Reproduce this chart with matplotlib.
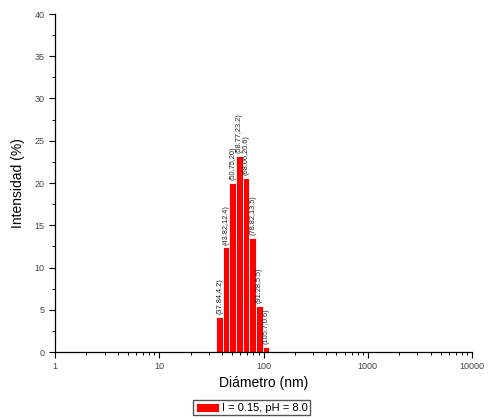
import numpy as np
import matplotlib
matplotlib.use('Agg')
import matplotlib.pyplot as plt
from matplotlib.ticker import MultipleLocator, LogLocator, NullFormatter, FixedLocator, FixedFormatter

plt.rcParams['font.family'] = ['Liberation Sans', 'DejaVu Sans']

# size distribution (diameter in nm, intensity in %)
diametro = [37.84, 43.82, 50.75, 58.77, 68.06, 78.82, 91.28, 105.7]
intensidad = [4.2, 12.4, 20, 23.2, 20.6, 13.5, 5.5, 0.6]
etiquetas = ['(37.84,4.2)', '(43.82,12.4)', '(50.75,20)', '(58.77,23.2)',
             '(68.06,20.6)', '(78.82,13.5)', '(91.28,5.5)', '(105.7,0.6)']
serie = 'I = 0.15, pH = 8.0'

fig = plt.figure(figsize=(4.88, 4.19), dpi=100)
ax = fig.add_axes([55/488, 1-352/419, (472-55)/488, (352-14)/419])

# bars fill each log bin: edges at geometric midpoints
d = np.array(diametro)
r = np.sqrt(d[1] / d[0])
left = d / r
width = d * r - left
ax.bar(left, intensidad, width=width, align='edge', color='#ff0000',
       edgecolor='white', linewidth=0.6, label=serie)

for x, y, t in zip(diametro, intensidad, etiquetas):
    ax.text(x, y + 0.3, t, rotation=90, ha='center', va='bottom', fontsize=5.3, color='#222222')

ax.set_xscale('log')
ax.set_xlim(1, 10000)
ax.set_ylim(0, 40)
ax.xaxis.set_major_locator(FixedLocator([1, 10, 100, 1000, 10000]))
ax.xaxis.set_major_formatter(FixedFormatter(['1', '10', '100', '1000', '10000']))
ax.xaxis.set_minor_locator(LogLocator(base=10, subs=np.arange(2, 10)))
ax.xaxis.set_minor_formatter(NullFormatter())
ax.yaxis.set_major_locator(MultipleLocator(5))
ax.yaxis.set_minor_locator(MultipleLocator(2.5))

for s in ['top', 'right']:
    ax.spines[s].set_visible(False)
for s in ['left', 'bottom']:
    ax.spines[s].set_linewidth(0.9)
ax.tick_params(which='major', direction='out', length=4, width=0.8, labelsize=6.5, labelcolor='#444444')
ax.tick_params(which='minor', direction='out', length=2.5, width=0.7)

ax.set_xlabel('Diámetro (nm)', fontsize=10, labelpad=3)
ax.set_ylabel('Intensidad (%)', fontsize=10, labelpad=7)

ax.legend(loc='upper center', bbox_to_anchor=(0.472, -0.143), frameon=True, fancybox=False,
          edgecolor='#555555', fontsize=8, handlelength=2.1, handleheight=0.9,
          handletextpad=0.3, borderpad=0.2, borderaxespad=0, framealpha=1)

fig.savefig('out.png', dpi=100)
